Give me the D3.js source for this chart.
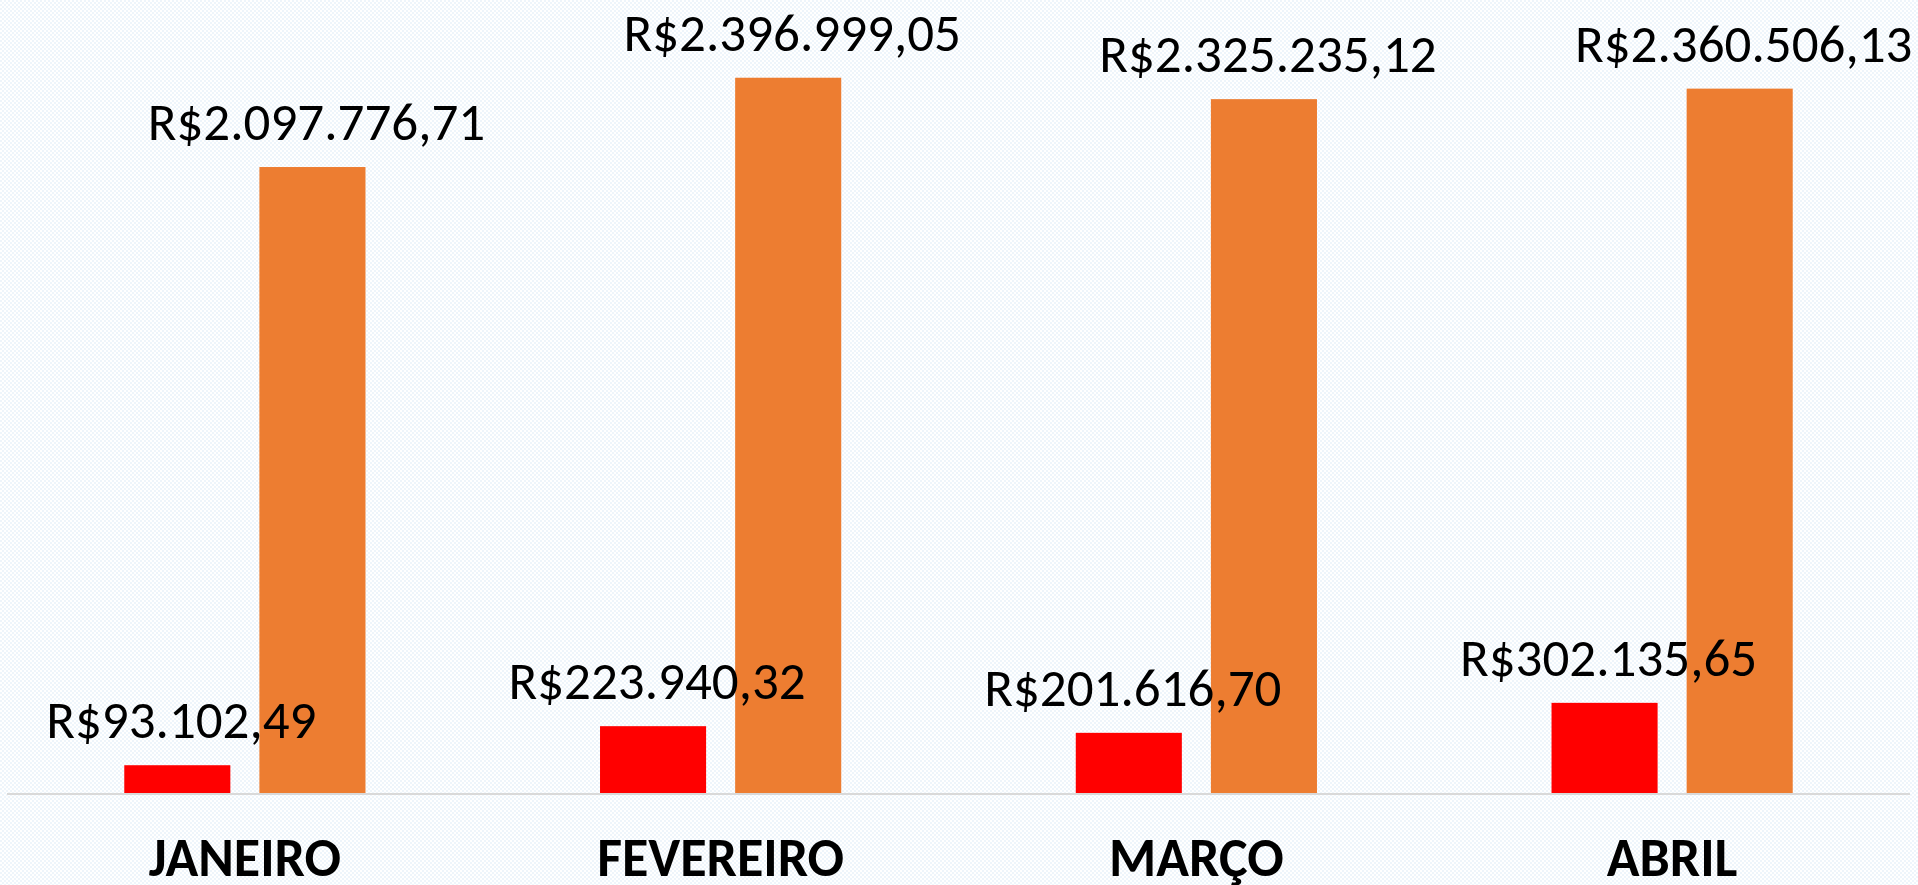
<!DOCTYPE html>
<html>
<head>
<meta charset="utf-8">
<script src="https://cdn.jsdelivr.net/npm/d3@7"></script>
<style>
  html, body { margin: 0; padding: 0; background: #fff; }
  svg { display: block; }
</style>
</head>
<body>
<div id="chart"></div>
<script>
const months = ['JANEIRO', 'FEVEREIRO', 'MARÇO', 'ABRIL'];
const seriesRed = [93102.49, 223940.32, 201616.70, 302135.65];
const seriesOrange = [2097776.71, 2396999.05, 2325235.12, 2360506.13];
const seriesKeys = ['red', 'orange'];
const seriesColors = ['#ff0000', '#ed7d31'];

const W = 1918, H = 885;
const margin = { top: 47, right: 8, bottom: 92, left: 7 };
const width = W - margin.left - margin.right;
const height = H - margin.top - margin.bottom;

const data = months.map((m, i) => ({ month: m, red: seriesRed[i], orange: seriesOrange[i] }));

const svg = d3.select('#chart')
  .append('svg')
  .attr('width', W)
  .attr('height', H);

// faint checker background
const pat = svg.append('defs').append('pattern')
  .attr('id', 'bgdots')
  .attr('width', 4).attr('height', 4)
  .attr('patternUnits', 'userSpaceOnUse');
pat.append('rect').attr('width', 4).attr('height', 4).attr('fill', '#ffffff');
pat.append('rect').attr('width', 2).attr('height', 2).attr('fill', '#eef5fb');
pat.append('rect').attr('x', 2).attr('y', 2).attr('width', 2).attr('height', 2).attr('fill', '#eef5fb');
svg.append('rect').attr('width', W).attr('height', H).attr('fill', 'url(#bgdots)');

const g = svg.append('g')
  .attr('transform', `translate(${margin.left},${margin.top})`);

const x0 = d3.scaleBand()
  .domain(months)
  .range([0, width])
  .paddingInner(0)
  .paddingOuter(0);

// bars sit in the middle of each band with a small gap between them
const x1 = d3.scaleBand()
  .domain(seriesKeys)
  .range([x0.bandwidth() * 0.2465, x0.bandwidth() * 0.7535])
  .paddingInner(0.215);

const y = d3.scaleLinear()
  .domain([0, 2500000])
  .range([height, 0]);

const color = d3.scaleOrdinal().domain(seriesKeys).range(seriesColors);

const fmt = v => 'R$' + v.toLocaleString('pt-BR', { minimumFractionDigits: 2, maximumFractionDigits: 2 });

const groups = g.selectAll('.grp')
  .data(data)
  .join('g')
  .attr('class', 'grp')
  .attr('transform', d => `translate(${x0(d.month)},0)`);

groups.selectAll('rect')
  .data(d => seriesKeys.map(k => ({ key: k, value: d[k] })))
  .join('rect')
  .attr('x', d => x1(d.key))
  .attr('y', d => y(d.value))
  .attr('width', x1.bandwidth())
  .attr('height', d => height - y(d.value))
  .attr('fill', d => color(d.key));

groups.selectAll('text.val')
  .data(d => seriesKeys.map(k => ({ key: k, value: d[k] })))
  .join('text')
  .attr('class', 'val')
  .attr('x', d => x1(d.key) + x1.bandwidth() / 2 + 4)
  .attr('y', d => y(d.value) - 27)
  .attr('text-anchor', 'middle')
  .style('font-family', 'Carlito, Calibri, "Open Sans", sans-serif')
  .style('font-size', '53px')
  .attr('fill', '#000')
  .text(d => fmt(d.value));

// baseline
g.append('line')
  .attr('x1', 0).attr('x2', width)
  .attr('y1', height + 1).attr('y2', height + 1)
  .attr('stroke', '#d9d9d9')
  .attr('stroke-width', 2);

// category axis
const xAxis = g.append('g')
  .attr('transform', `translate(0,${height})`)
  .call(d3.axisBottom(x0).tickSize(0).tickPadding(0));
xAxis.select('.domain').remove();
xAxis.selectAll('text')
  .attr('dy', 0)
  .attr('y', 83)
  .style('font-family', 'Carlito, Calibri, "Open Sans", sans-serif')
  .style('font-size', '54px')
  .style('font-weight', 'bold')
  .attr('fill', '#000');
</script>
</body>
</html>
